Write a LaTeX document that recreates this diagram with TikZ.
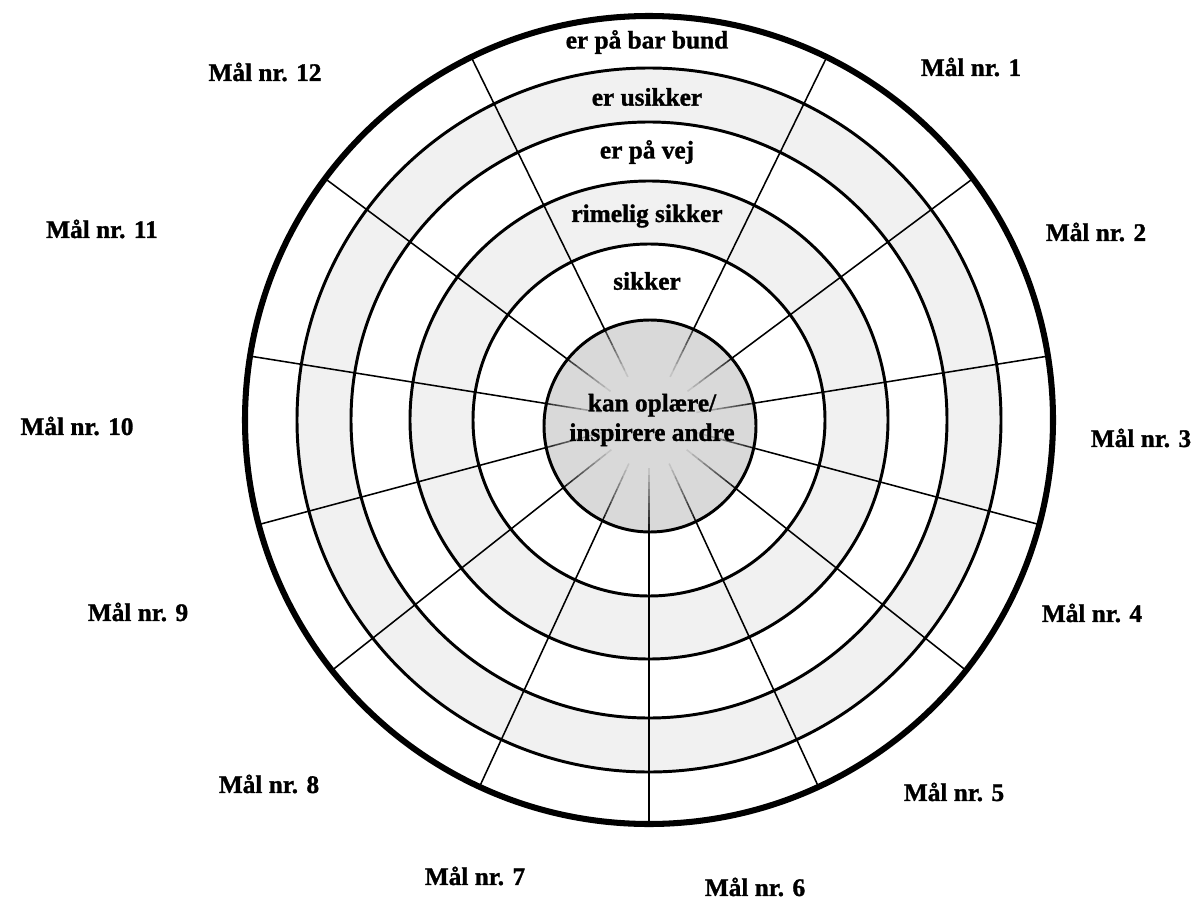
\documentclass[tikz,border=0pt]{standalone}
\usepackage{fontspec}
\setmainfont{Liberation Serif}[BoldFeatures={FakeBold=1.2}]
\usetikzlibrary{calc}
\definecolor{ringgray}{HTML}{F1F1F1}
\definecolor{coregray}{HTML}{D9D9D9}
\begin{document}
\begin{tikzpicture}[x=0.025cm,y=-0.025cm,
  lbl/.style={font=\fontsize{18}{21}\selectfont\bfseries, inner sep=0pt, align=center},
  ringline/.style={line width=2.1pt},
  outerline/.style={line width=4.3pt},
  spoke/.style={line width=1.1pt}]
\useasboundingbox (0,0) rectangle (1199,900);
\coordinate (c) at (649,420);
\coordinate (g) at (650,426);
% ring fills
\fill[ringgray] (c) circle[radius=352];
\fill[white] (c) circle[radius=298];
\fill[ringgray] (c) circle[radius=239];
\fill[white] (c) circle[radius=176];
% spokes
\foreach \a in {63.9,36.7,9.1,-15,-38.3,-65.2,-90,-114.8,-141.7,-165,170.9,143.3,116.1}{
  \draw[spoke] (c) -- ($(c)+({-\a}:406)$);
}
% ring lines
\foreach \r in {176,239,298,352}{
  \draw[ringline] (c) circle[radius=\r];
}
% core circle
\fill[coregray] (g) circle[radius=106];
\begin{scope}
  \clip (g) circle[radius=106];
  \foreach \a in {63.9,36.7,9.1,-15,-38.3,-65.2,-90,-114.8,-141.7,-165,170.9,143.3,116.1}{
    \foreach \i in {0,...,9}{
      \pgfmathtruncatemacro\pct{100-10*\i}
      \draw[spoke, draw=black!\pct!coregray] ($(c)+({-\a}:{118-7*\i})$) -- ($(c)+({-\a}:{111-7*\i})$);
    }
  }
\end{scope}
\draw[ringline] (g) circle[radius=106];
\draw[outerline] (c) circle[radius=404];
% level labels
\node[lbl] (lv1) at (647,42) {er på bar bund};
\node[lbl] (lv2) at (647,97) {er usikker};
\node[lbl] (lv3) at (647,152) {er på vej};
\node[lbl] (lv4) at (647,216) {rimelig sikker};
\node[lbl] (lv5) at (647,281) {sikker};
\node[lbl] (core) at (652,420) {kan oplære/\\inspirere andre};
% goal labels
\node[lbl] (g1) at (971,67) {Mål nr. 1};
\node[lbl] (g2) at (1096,232) {Mål nr. 2};
\node[lbl] (g3) at (1141,438) {Mål nr. 3};
\node[lbl] (g4) at (1092,613) {Mål nr. 4};
\node[lbl] (g5) at (954,792) {Mål nr. 5};
\node[lbl] (g6) at (755,887) {Mål nr. 6};
\node[lbl] (g7) at (475,876) {Mål nr. 7};
\node[lbl] (g8) at (269,784) {Mål nr. 8};
\node[lbl] (g9) at (138,612) {Mål nr. 9};
\node[lbl] (g10) at (77,426) {Mål nr. 10};
\node[lbl] (g11) at (102,229) {Mål nr. 11};
\node[lbl] (g12) at (265,72) {Mål nr. 12};
\end{tikzpicture}
\end{document}
